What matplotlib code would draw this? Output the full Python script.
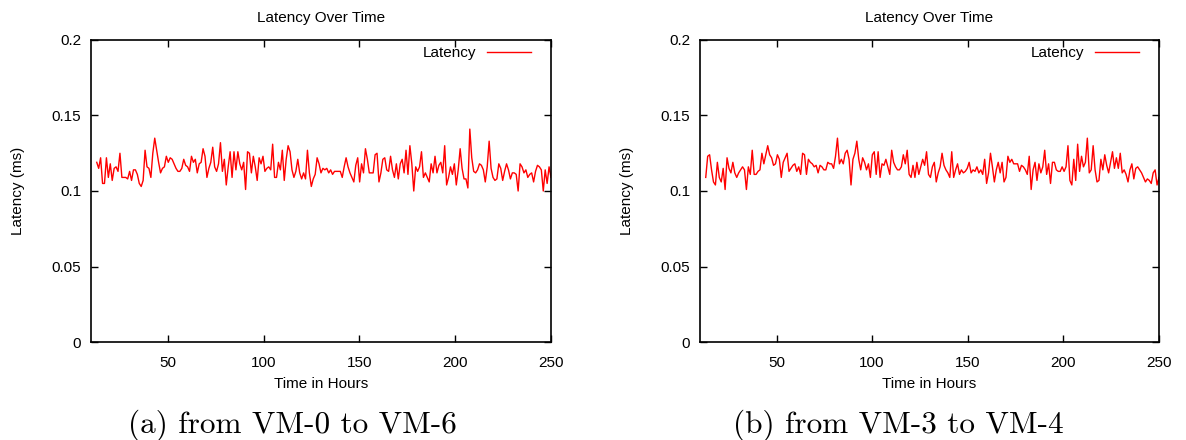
import numpy as np
import matplotlib
matplotlib.use("Agg")
import matplotlib.pyplot as plt

# ---- data ----
latency_a = [
    0.119, 0.115, 0.122, 0.105, 0.105, 0.122, 0.109, 0.118, 0.107, 0.115, 0.116, 0.113, 0.125, 0.109, 0.109,
    0.109, 0.108, 0.113, 0.107, 0.114, 0.114, 0.111, 0.105, 0.103, 0.107, 0.127, 0.116, 0.115, 0.109, 0.125,
    0.135, 0.127, 0.119, 0.112, 0.115, 0.116, 0.123, 0.119, 0.122, 0.121, 0.118, 0.115, 0.113, 0.113, 0.115,
    0.121, 0.117, 0.116, 0.113, 0.123, 0.119, 0.121, 0.112, 0.118, 0.119, 0.128, 0.123, 0.109, 0.115, 0.119,
    0.129, 0.116, 0.113, 0.118, 0.132, 0.113, 0.121, 0.104, 0.116, 0.126, 0.109, 0.126, 0.114, 0.126, 0.118,
    0.114, 0.119, 0.101, 0.126, 0.125,
    0.112, 0.123, 0.116, 0.107, 0.122, 0.118, 0.123, 0.113, 0.115, 0.116, 0.114, 0.131, 0.109, 0.109, 0.119,
    0.114, 0.127, 0.107, 0.121, 0.130, 0.126, 0.114, 0.109, 0.113, 0.121, 0.112, 0.108, 0.112, 0.108, 0.127,
    0.112, 0.103, 0.108, 0.111, 0.122, 0.118, 0.112, 0.115, 0.114, 0.115, 0.112, 0.114, 0.111, 0.113, 0.113,
    0.113, 0.113, 0.109, 0.116, 0.122, 0.116, 0.112, 0.109, 0.106, 0.117, 0.122, 0.106, 0.118, 0.112, 0.128,
    0.121, 0.112, 0.112, 0.112, 0.124, 0.125, 0.106, 0.112, 0.121, 0.122, 0.114, 0.113, 0.123, 0.114, 0.109,
    0.118, 0.108, 0.118, 0.121, 0.112,
    0.127, 0.111, 0.130, 0.118, 0.100, 0.116, 0.113, 0.116, 0.126, 0.109, 0.112, 0.109, 0.106, 0.118, 0.112,
    0.123, 0.112, 0.117, 0.119, 0.112, 0.130, 0.104, 0.109, 0.116, 0.111, 0.118, 0.104, 0.114, 0.128, 0.115,
    0.108, 0.108, 0.102, 0.141, 0.122, 0.113, 0.112, 0.114, 0.118, 0.117, 0.114, 0.106, 0.116, 0.133, 0.115,
    0.109, 0.107, 0.108, 0.118, 0.115, 0.107, 0.113, 0.118, 0.114, 0.108, 0.112, 0.112, 0.111, 0.100, 0.118,
    0.116, 0.112, 0.114, 0.109, 0.111, 0.112, 0.106, 0.113, 0.117, 0.116, 0.114, 0.100, 0.114, 0.105, 0.116,
    0.109,
]

latency_b = [
    0.109, 0.123, 0.124, 0.114, 0.106, 0.104, 0.119, 0.109, 0.106, 0.115, 0.101, 0.122, 0.115, 0.112, 0.119,
    0.112, 0.109, 0.112, 0.114, 0.116, 0.114, 0.101, 0.116, 0.111, 0.127, 0.111, 0.111, 0.113, 0.114, 0.125,
    0.118, 0.124, 0.130, 0.124, 0.122, 0.117, 0.118, 0.124, 0.121, 0.109, 0.119, 0.122, 0.125, 0.113, 0.115,
    0.117, 0.118, 0.113, 0.116, 0.111, 0.125, 0.124, 0.111, 0.121, 0.119, 0.118, 0.116, 0.117, 0.112, 0.117,
    0.116, 0.114, 0.114, 0.119, 0.118, 0.118, 0.115, 0.123, 0.135, 0.118, 0.121, 0.118, 0.125, 0.127, 0.121,
    0.104, 0.121, 0.125, 0.133, 0.121, 0.114,
    0.122, 0.119, 0.114, 0.118, 0.109, 0.124, 0.126, 0.111, 0.126, 0.109, 0.118, 0.117, 0.121, 0.116, 0.111,
    0.127, 0.119, 0.116, 0.114, 0.114, 0.116, 0.124, 0.118, 0.127, 0.111, 0.109, 0.117, 0.109, 0.119, 0.111,
    0.116, 0.121, 0.117, 0.126, 0.111, 0.109, 0.116, 0.119, 0.106, 0.112, 0.116, 0.125, 0.117, 0.114, 0.112,
    0.109, 0.126, 0.109, 0.114, 0.118, 0.111, 0.114, 0.112, 0.113, 0.115, 0.119, 0.112, 0.114, 0.113, 0.116,
    0.112, 0.114, 0.111, 0.121, 0.105, 0.112, 0.125, 0.116, 0.106, 0.114, 0.119, 0.112, 0.119, 0.106, 0.109,
    0.123, 0.119, 0.121, 0.118,
    0.118, 0.118, 0.113, 0.117, 0.116, 0.114, 0.111, 0.123, 0.101, 0.114, 0.119, 0.107, 0.118, 0.112, 0.116,
    0.127, 0.111, 0.118, 0.105, 0.119, 0.119, 0.114, 0.113, 0.113, 0.116, 0.113, 0.116, 0.130, 0.107, 0.104,
    0.121, 0.107, 0.131, 0.113, 0.123, 0.116, 0.119, 0.135, 0.112, 0.114, 0.130, 0.114, 0.106, 0.107, 0.121,
    0.114, 0.124, 0.117, 0.112, 0.119, 0.126, 0.115, 0.122, 0.115, 0.125, 0.112, 0.114, 0.111, 0.106, 0.114,
    0.118, 0.108, 0.115, 0.116, 0.114, 0.112, 0.109, 0.106, 0.108, 0.107, 0.105, 0.112, 0.114, 0.104, 0.109,
]

hours_a = np.linspace(13, 250, len(latency_a))
hours_b = np.linspace(13, 250, len(latency_b))

x_ticks = [50, 100, 150, 200, 250]
y_ticks = [0, 0.05, 0.1, 0.15, 0.2]
y_tick_labels = ["0", "0.05", "0.1", "0.15", "0.2"]
captions = ["(a) from VM-0 to VM-6", "(b) from VM-3 to VM-4"]

# ---- figure ----
plt.rcParams["font.family"] = ["Liberation Sans", "DejaVu Sans"]
plt.rcParams["font.size"] = 11

W, H = 1186, 440
fig = plt.figure(figsize=(W / 100, H / 100), dpi=100)

panels = [
    (hours_a, latency_a, [91, 551], 292),
    (hours_b, latency_b, [700, 1159], 898),
]

for (hx, vals, (xl, xr), cap_x), cap in zip(panels, captions):
    aw = xr - xl
    ax = fig.add_axes([xl / W, 1 - 342 / H, aw / W, (342 - 40) / H])
    ax.plot(hx, vals, color="#ff0000", lw=1.0, label="Latency")
    ax.set_xlim(10, 250)
    ax.set_ylim(0, 0.2)
    ax.set_xticks(x_ticks)
    ax.set_xticklabels([str(t) for t in x_ticks])
    ax.set_yticks(y_ticks)
    ax.set_yticklabels(y_tick_labels)
    ax.tick_params(direction="in", length=5, width=1, top=True, right=True,
                   labelsize=11, colors="black")
    ax.tick_params(axis="x", pad=10)
    ax.tick_params(axis="y", pad=7)
    for s in ax.spines.values():
        s.set_linewidth(1.2)
    ax.set_title("Latency Over Time", fontsize=11, pad=13)
    ax.set_xlabel("Time in Hours", fontsize=11, labelpad=5)
    ax.set_ylabel("Latency (ms)", fontsize=11, labelpad=19)
    ax.legend(loc="upper right", frameon=False, markerfirst=False,
              handlelength=2.9, handletextpad=0.65, fontsize=11,
              borderaxespad=0.0, bbox_to_anchor=(1 - 14 / aw, 1.0))
    fig.text(cap_x / W, 1 - 433 / H, cap, ha="center", va="baseline",
             fontsize=22.5, family="cmr10")

fig.savefig("out.png", dpi=100)
